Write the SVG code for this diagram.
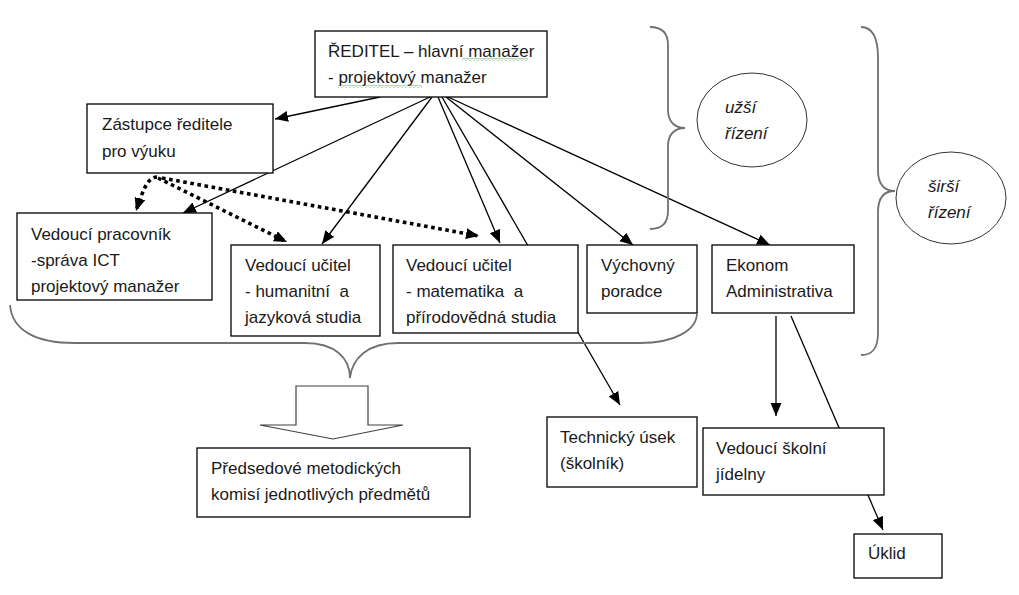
<svg xmlns="http://www.w3.org/2000/svg" width="1019" height="595" viewBox="0 0 1019 595">
<style>
text{font-family:"Liberation Sans",Arial,sans-serif;font-size:17px;fill:#1a1a1a;white-space:pre}
.it{font-style:italic}
.box{fill:#fff;stroke:#000;stroke-width:1.3}
.ln{fill:none;stroke:#000;stroke-width:1.3}
.dot{fill:none;stroke:#000;stroke-width:3.6;stroke-dasharray:3.6 3.6}
.brace{fill:none;stroke:#707070;stroke-width:1.8}
.ell{fill:#fff;stroke:#333;stroke-width:1}
</style>
<defs>
<marker id="ah" markerUnits="userSpaceOnUse" markerWidth="14" markerHeight="12" refX="13" refY="5.5" orient="auto">
<path d="M0,0 L13,5.5 L0,11 z" fill="#000"/>
</marker>
<pattern id="squig" width="4" height="3" patternUnits="userSpaceOnUse">
<path d="M0,2.5 L2,0.5 L4,2.5" fill="none" stroke="#4a9a4a" stroke-width="0.8"/>
</pattern>
</defs>
<rect width="1019" height="595" fill="#fff"/>

<g id="connectors">
<line class="ln" x1="380" y1="97" x2="275" y2="119" marker-end="url(#ah)"/>
<line class="ln" x1="430" y1="97" x2="183" y2="213" marker-end="url(#ah)"/>
<line class="ln" x1="432" y1="97" x2="322" y2="244" marker-end="url(#ah)"/>
<line class="ln" x1="438" y1="97" x2="500" y2="243" marker-end="url(#ah)"/>
<line class="ln" x1="442" y1="97" x2="620" y2="405" marker-end="url(#ah)"/>
<line class="ln" x1="446" y1="97" x2="633" y2="245" marker-end="url(#ah)"/>
<line class="ln" x1="448" y1="97" x2="770" y2="245" marker-end="url(#ah)"/>
<path class="dot" d="M157,177 C149,177 144,186 136,211" marker-end="url(#ah)"/>
<line class="dot" x1="158" y1="178" x2="287" y2="242" marker-end="url(#ah)"/>
<line class="dot" x1="162" y1="178" x2="479" y2="236" marker-end="url(#ah)"/>
<line class="ln" x1="776" y1="316" x2="776" y2="416" marker-end="url(#ah)"/>
<line class="ln" x1="791" y1="316" x2="883" y2="530" marker-end="url(#ah)"/>
</g>

<g id="reditel">
<rect class="box" x="315" y="31" width="232" height="66"/>
<text x="328" y="57">ŘEDITEL – hlavní manažer</text>
<text x="328" y="83">- projektový manažer</text>
<rect x="462" y="58" width="66" height="3" fill="url(#squig)"/>
<rect x="338" y="85" width="84" height="3" fill="url(#squig)"/>
</g>
<g id="zastupce">
<rect class="box" x="87" y="104" width="186" height="69"/>
<text x="102" y="130">Zástupce ředitele</text>
<text x="102" y="157">pro výuku</text>
</g>
<g id="pracovnik">
<rect class="box" x="17" y="213" width="195" height="87"/>
<text x="31" y="240">Vedoucí pracovník</text>
<text x="31" y="266">-správa ICT</text>
<text x="31" y="292">projektový manažer</text>
</g>
<g id="humanitni">
<rect class="box" x="231" y="245" width="149" height="91"/>
<text x="245" y="271">Vedoucí učitel</text>
<text x="245" y="297">- humanitní  a</text>
<text x="245" y="323">jazyková studia</text>
</g>
<g id="matematika">
<rect class="box" x="393" y="245" width="185" height="88"/>
<text x="406" y="271">Vedoucí učitel</text>
<text x="406" y="297">- matematika  a</text>
<text x="406" y="323">přírodovědná studia</text>
</g>
<g id="vychovny">
<rect class="box" x="587" y="245" width="110" height="68"/>
<text x="601" y="271">Výchovný</text>
<text x="601" y="297">poradce</text>
</g>
<g id="ekonom">
<rect class="box" x="712" y="245" width="142" height="68"/>
<text x="726" y="271">Ekonom</text>
<text x="726" y="297">Administrativa</text>
</g>
<g id="technicky">
<rect class="box" x="547" y="417" width="150" height="70"/>
<text x="560" y="443">Technický úsek</text>
<text x="560" y="469">(školník)</text>
</g>
<g id="jidelna">
<rect class="box" x="703" y="428" width="181" height="67"/>
<text x="716" y="454">Vedoucí školní</text>
<text x="716" y="480">jídelny</text>
</g>
<g id="uklid">
<rect class="box" x="854" y="534" width="88" height="44"/>
<text x="868" y="559">Úklid</text>
</g>
<g id="predsedove">
<rect class="box" x="197" y="448" width="273" height="69"/>
<text x="211" y="474">Předsedové metodických</text>
<text x="211" y="500">komisí jednotlivých předmětů</text>
</g>

<g id="uzsi">
<ellipse class="ell" cx="752" cy="120" rx="55" ry="47"/>
<text class="it" x="725" y="113">užší</text>
<text class="it" x="725" y="139">řízení</text>
</g>
<g id="sirsi">
<ellipse class="ell" cx="951" cy="198" rx="55" ry="46"/>
<text class="it" x="928" y="192">širší</text>
<text class="it" x="928" y="218">řízení</text>
</g>

<g id="braces">
<path class="brace" d="M650,27 C662,27 668,33 668,45 L668,110 C668,122 675,128 685,128 C675,128 668,134 668,146 L668,211 C668,223 662,229 650,229"/>
<path class="brace" d="M861,27 C873,27 878,38 878,58 L878,170 C878,184 884,191 895,191 C884,191 878,198 878,212 L878,333 C878,349 872,355 861,355"/>
<path class="brace" d="M10,305 C12,330 35,343 75,343 L305,343 C335,343 350,358 350,378 C352,358 368,343 398,343 L640,343 C675,343 697,330 697,313"/>
</g>

<g id="blockarrow">
<polygon points="296,386 368,386 368,425 403,425 333,439 260,425 296,425" fill="#fff" stroke="#404040" stroke-width="1.2"/>
</g>
</svg>
